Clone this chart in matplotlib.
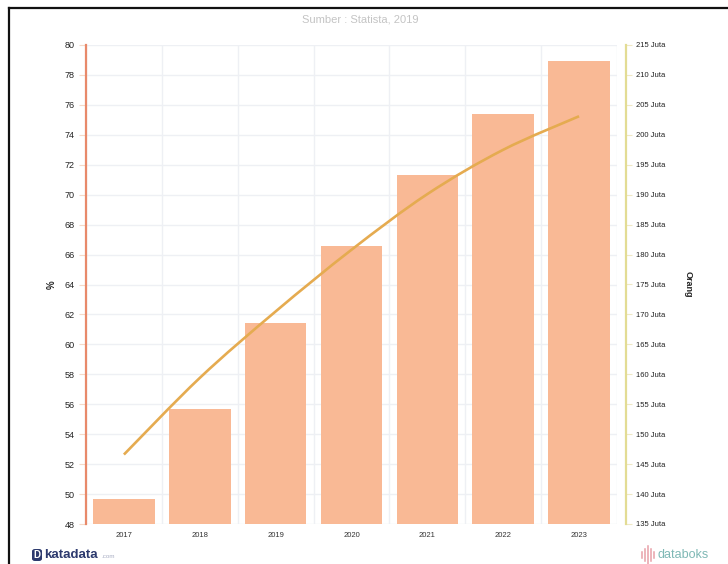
import matplotlib
matplotlib.use("Agg")
import matplotlib.pyplot as plt
from matplotlib.lines import Line2D
from matplotlib.patches import FancyBboxPatch, PathPatch
from matplotlib.path import Path
import numpy as np

# data
years = ["2017", "2018", "2019", "2020", "2021", "2022", "2023"]
persen = [49.7, 55.7, 61.4, 66.6, 71.3, 75.4, 78.9]
pengguna = [146.6, 159.4, 170.5, 180.8, 190.1, 197.5, 203.1]
left_ticks = list(range(48, 82, 2))
right_ticks = list(range(135, 220, 5))


def spline_path(xs, ys):
    # bezier segments through every point so the line bends smoothly
    verts = [(xs[0], ys[0])]
    codes = [Path.MOVETO]
    n = len(xs)
    for i in range(n - 1):
        a = max(i - 1, 0)
        b = min(i + 2, n - 1)
        verts.append((xs[i] + (xs[i + 1] - xs[a]) / 6, ys[i] + (ys[i + 1] - ys[a]) / 6))
        verts.append((xs[i + 1] - (xs[b] - xs[i]) / 6, ys[i + 1] - (ys[b] - ys[i]) / 6))
        verts.append((xs[i + 1], ys[i + 1]))
        codes += [Path.CURVE4] * 3
    return Path(verts, codes)


W, H = 728, 564
fig = plt.figure(figsize=(W / 100, H / 100), dpi=100, facecolor="white")
plt.rcParams["font.family"] = "Liberation Sans"

ax = fig.add_axes([86 / W, 1 - 524 / H, (617 - 86) / W, (524 - 45) / H])
ax2 = ax.twinx()
x = np.arange(len(years))

# grid + bar
ax.set_axisbelow(True)
ax.bar(x, persen, width=0.81, color="#F9B995", zorder=2)
ax.set_xlim(-0.5, 6.5)
ax.set_ylim(48, 80)
ax.set_yticks(left_ticks)
ax.set_xticks(x)
ax.set_xticklabels(years)
ax.set_xticks(np.arange(-0.5, 7, 1), minor=True)
ax.grid(True, axis="y", color="#EEF0F4", lw=1)
ax.grid(True, axis="x", which="minor", color="#EEF0F4", lw=1)
ax.tick_params(axis="x", which="both", length=0, pad=6, labelsize=5.5, labelcolor="#333333")
ax.tick_params(axis="y", length=5, width=0.8, color="#F5D9C8", pad=3, labelsize=6.5, labelcolor="#222222")
ax.set_ylabel("%", fontsize=7, color="#222222", labelpad=6, fontweight="bold")

for s in ["top", "right", "bottom"]:
    ax.spines[s].set_visible(False)
    ax2.spines[s if s != "right" else "left"].set_visible(False)
ax.spines["left"].set_color("#E8896A")
ax.spines["left"].set_linewidth(1.6)

# line on the right axis
ax2.add_patch(PathPatch(spline_path(x, pengguna), fc="none", ec="#E5AB50", lw=1.9, zorder=5, capstyle="butt"))
ax2.set_ylim(135, 215)
ax2.set_yticks(right_ticks)
ax2.set_yticklabels([f"{v} Juta" for v in right_ticks])
ax2.spines["right"].set_position(("outward", 6.5))
ax2.spines["right"].set_color("#E3DC94")
ax2.spines["right"].set_linewidth(1.6)
ax2.tick_params(axis="y", length=4, width=0.8, color="#EFE9C4", pad=3, labelsize=5.5, labelcolor="#222222")
ax2.set_ylabel("Orang", rotation=-90, fontsize=6.5, color="#222222", labelpad=20, fontweight="bold")

fig.text(360 / W, 1 - 19 / H, "Sumber : Statista, 2019", ha="center", va="center", fontsize=8, color="#C4C4C4")

# frame on top and left
fig.add_artist(Line2D([9 / W, 9 / W], [0, 1 - 8 / H], color="#111111", lw=1.6))
fig.add_artist(Line2D([9 / W, 1], [1 - 8 / H, 1 - 8 / H], color="#111111", lw=1.6))

# katadata logo
fig.add_artist(FancyBboxPatch((32 / W, 1 - 561 / H), 10 / W, 12 / H, boxstyle="round,pad=0,rounding_size=0.004",
                              transform=fig.transFigure, fc="#2D3A6E", ec="none"))
fig.text(37 / W, 1 - 555 / H, "D", ha="center", va="center", fontsize=7, color="white", fontweight="bold")
fig.text(44 / W, 1 - 555 / H, "katadata", ha="left", va="center", fontsize=9.5, color="#2D3A6E", fontweight="bold")
fig.text(101 / W, 1 - 557 / H, ".com", ha="left", va="center", fontsize=4.5, color="#A9AEC4")

# databoks logo
icon_x = [642, 645, 648, 651, 654]
icon_h = [3, 6, 9, 6, 3]
for ix, ih in zip(icon_x, icon_h):
    fig.add_artist(Line2D([ix / W, ix / W], [1 - (555 + ih) / H, 1 - (555 - ih) / H], color="#E8A0A8", lw=1.1))
fig.text(657 / W, 1 - 555 / H, "databoks", ha="left", va="center", fontsize=9, color="#7FB8B5")

fig.savefig("out.png", dpi=100)
